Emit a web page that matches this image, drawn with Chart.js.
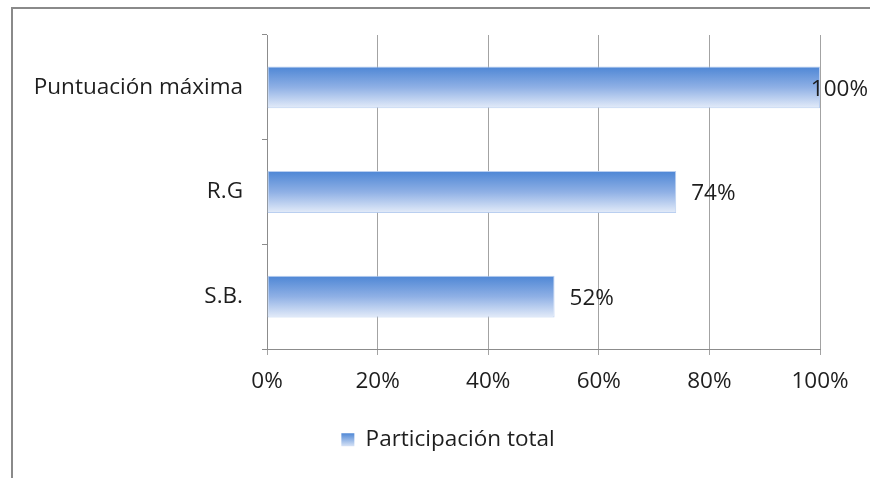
<!DOCTYPE html>
<html>
<head>
<meta charset="utf-8">
<style>
  html, body { margin: 0; padding: 0; background: #ffffff; }
  #wrap { position: relative; width: 870px; height: 478px; }
</style>
<script src="https://cdn.jsdelivr.net/npm/chart.js@4.4.1/dist/chart.umd.min.js"></script>
</head>
<body>
<div id="wrap"><canvas id="chart" width="870" height="478"></canvas></div>
<script>
// Categories (top to bottom) and their share of the maximum score
const categories = ['Puntuación máxima', 'R.G', 'S.B.'];
const participacion = [1.00, 0.74, 0.52];
const xTicks = [0, 0.2, 0.4, 0.6, 0.8, 1.0];
const seriesName = 'Participación total';

const FONT = '"Open Sans", "DejaVu Sans", sans-serif';
const FONT_SIZE = 22.5;
const TEXT = '#1e1e1e';
const GRID = '#a3a3a3';
const AXIS = '#8c8c8c';
const BAR_PCT = 0.4;
const LEGEND_SHIFT = 38;

function barGradient(ctx, top, bottom) {
  const g = ctx.createLinearGradient(0, top, 0, bottom);
  g.addColorStop(0, '#4d86d5');
  g.addColorStop(0.5, '#8fb0e5');
  g.addColorStop(1, '#e4ecf9');
  return g;
}

// Outer frame of the chart object
const framePlugin = {
  id: 'frame',
  beforeDraw(chart) {
    const c = chart.ctx;
    c.save();
    c.fillStyle = '#ffffff';
    c.fillRect(0, 0, chart.width, chart.height);
    c.strokeStyle = '#8a8a8a';
    c.lineWidth = 2;
    c.strokeRect(12, 8, chart.width + 20, chart.height + 20);
    c.restore();
  }
};

// Centre the legend under the plot rather than under the whole canvas
const legendShift = {
  id: 'legendShift',
  afterLayout(chart) {
    if (chart.legend) {
      chart.legend.left += LEGEND_SHIFT;
      chart.legend.right += LEGEND_SHIFT;
    }
  }
};

// Percentage labels just past the end of each bar
const valueLabels = {
  id: 'valueLabels',
  afterDatasetsDraw(chart) {
    const c = chart.ctx;
    const meta = chart.getDatasetMeta(0);
    c.save();
    c.font = `${FONT_SIZE}px ${FONT}`;
    c.fillStyle = TEXT;
    c.textAlign = 'left';
    c.textBaseline = 'middle';
    meta.data.forEach((bar, i) => {
      const txt = Math.round(participacion[i] * 100) + '%';
      const w = c.measureText(txt).width;
      let x = bar.x + 15;
      if (x + w > chart.width - 2) x = chart.width - 2 - w;
      c.fillText(txt, x, bar.y + 2);
    });
    c.restore();
  }
};

const chart = new Chart(document.getElementById('chart'), {
  type: 'bar',
  data: {
    labels: categories,
    datasets: [{
      label: seriesName,
      data: participacion,
      backgroundColor: (ctx) => {
        const ch = ctx.chart;
        const ys = ch.scales.y;
        if (!ys || ctx.dataIndex === undefined) return '#8fb0e5';
        const center = ys.getPixelForValue(ctx.dataIndex);
        const band = Math.abs(ys.getPixelForValue(1) - ys.getPixelForValue(0));
        const h = band * BAR_PCT;
        return barGradient(ch.ctx, center - h / 2, center + h / 2);
      },
      borderColor: 'rgba(178, 202, 238, 0.9)',
      borderWidth: 1,
      borderSkipped: false,
      barPercentage: BAR_PCT,
      categoryPercentage: 1.0
    }]
  },
  options: {
    indexAxis: 'y',
    responsive: false,
    animation: false,
    devicePixelRatio: 1,
    layout: { padding: { top: 35, right: 50, left: 0, bottom: 17 } },
    scales: {
      x: {
        min: 0,
        max: 1,
        afterBuildTicks(scale) {
          scale.ticks = xTicks.map(v => ({ value: v }));
        },
        afterFit(scale) { scale.height = 69.5; },
        ticks: {
          padding: 13,
          color: TEXT,
          font: { family: FONT, size: FONT_SIZE },
          callback: (v) => Math.round(v * 100) + '%'
        },
        grid: { color: GRID, lineWidth: 1, tickLength: 6, tickColor: GRID },
        border: { color: AXIS, width: 1 }
      },
      y: {
        afterFit(scale) { scale.width = 267; },
        ticks: {
          padding: 19,
          color: TEXT,
          font: { family: FONT, size: FONT_SIZE }
        },
        grid: { drawOnChartArea: false, offset: true, tickLength: 5, tickColor: AXIS },
        border: { color: AXIS, width: 1 }
      }
    },
    plugins: {
      legend: {
        position: 'bottom',
        labels: {
          boxWidth: 13,
          boxHeight: 13,
          padding: 10,
          color: TEXT,
          font: { family: FONT, size: FONT_SIZE },
          generateLabels(ch) {
            const g = ch.ctx.createLinearGradient(0, 433, 0, 447);
            g.addColorStop(0, '#4d86d5');
            g.addColorStop(1, '#dfe8f8');
            return [{
              text: seriesName,
              fillStyle: g,
              strokeStyle: 'rgba(0,0,0,0)',
              lineWidth: 0,
              fontColor: TEXT,
              datasetIndex: 0,
              hidden: false
            }];
          }
        }
      },
      tooltip: { enabled: false }
    }
  },
  plugins: [framePlugin, legendShift, valueLabels]
});
</script>
</body>
</html>
